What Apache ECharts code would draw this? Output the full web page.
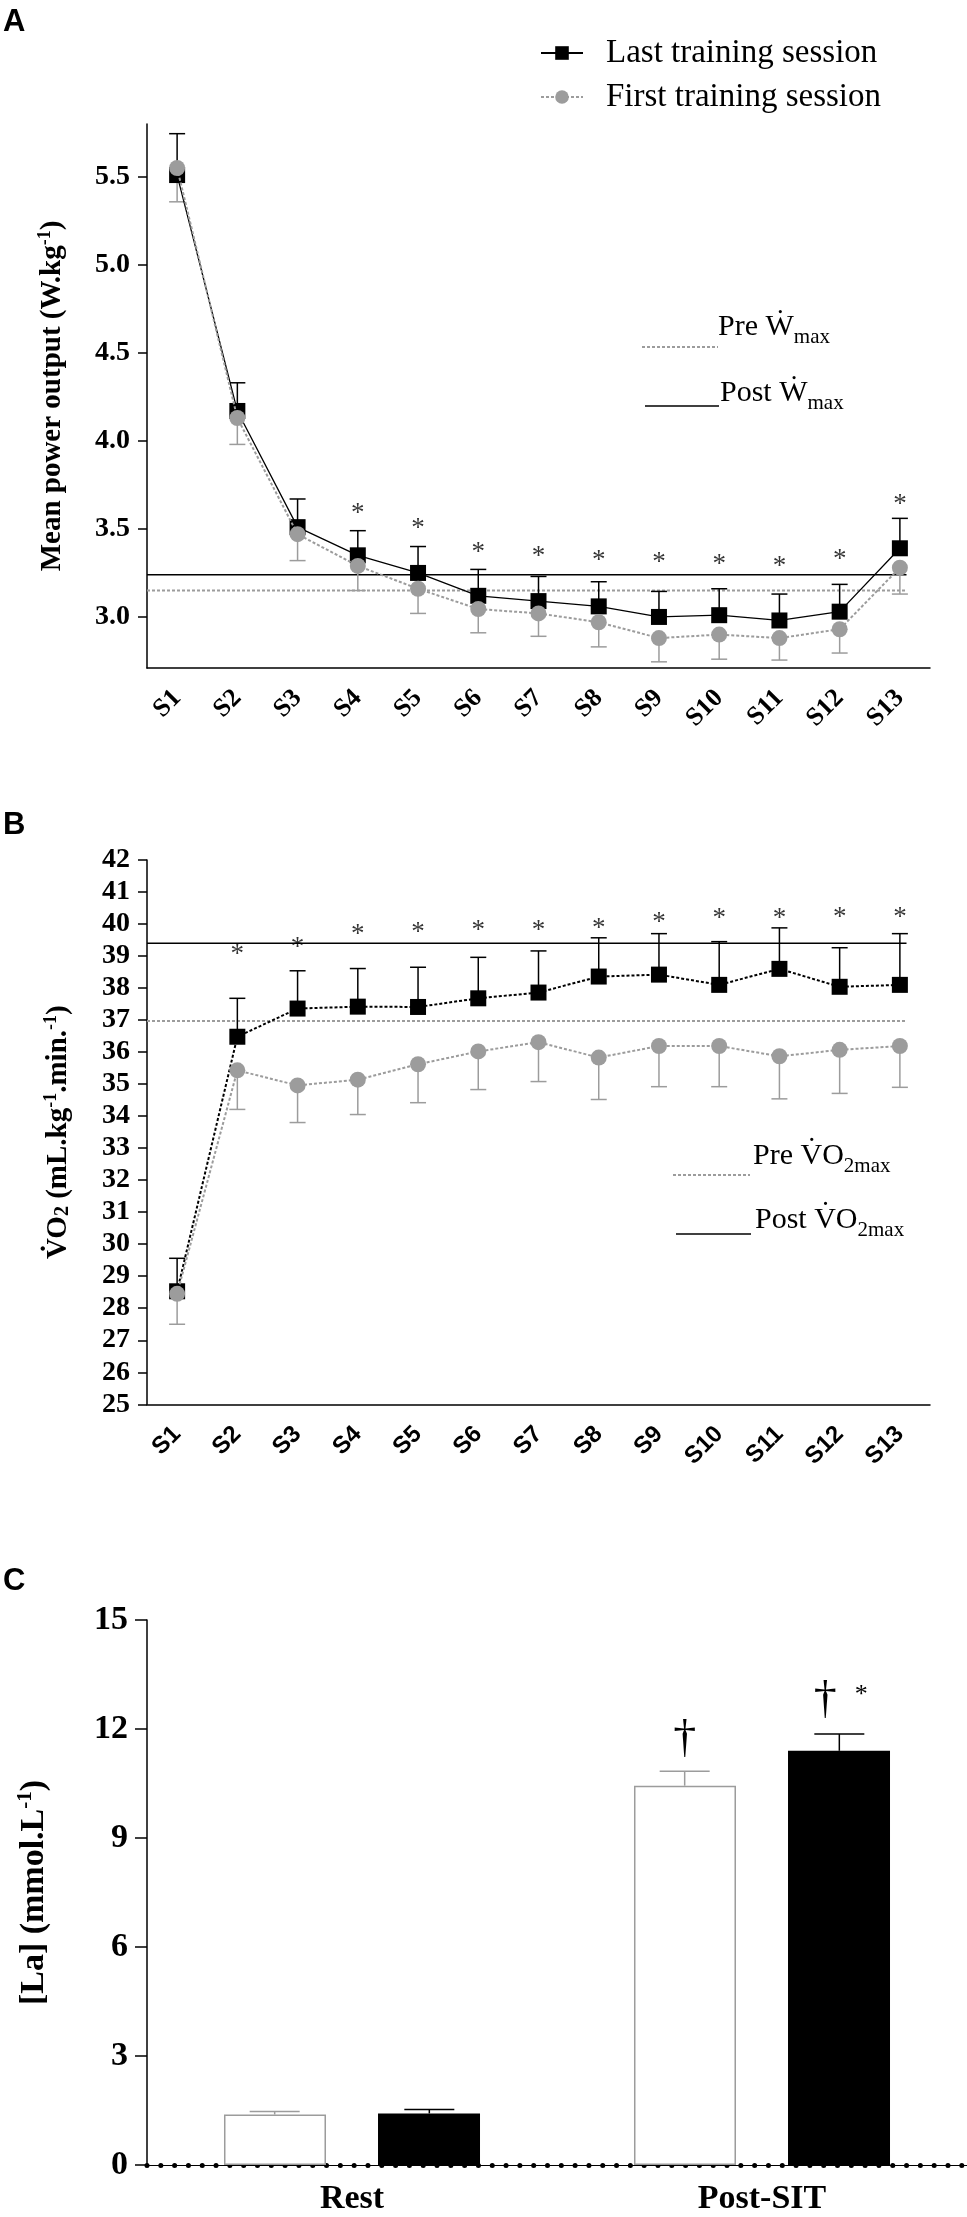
<!DOCTYPE html>
<html>
<head>
<meta charset="utf-8">
<script src="https://cdn.jsdelivr.net/npm/echarts@6/dist/echarts.min.js"></script>
<style>
html,body{margin:0;padding:0;background:#fff;}
#chart{width:967px;height:2217px;}
</style>
</head>
<body>
<div id="chart"></div>
<script>
// ---------------- DATA ----------------
const sessions = ['S1','S2','S3','S4','S5','S6','S7','S8','S9','S10','S11','S12','S13'];

// Panel A: mean power output (W.kg-1)
const powerLast      = [5.51, 4.17, 3.51, 3.35, 3.25, 3.12, 3.09, 3.06, 3.00, 3.01, 2.98, 3.03, 3.39];
const powerLastUpper = [5.745, 4.33, 3.67, 3.49, 3.40, 3.27, 3.23, 3.20, 3.145, 3.16, 3.13, 3.185, 3.56];
const powerFirst     = [5.55, 4.13, 3.47, 3.29, 3.16, 3.045, 3.02, 2.97, 2.88, 2.90, 2.88, 2.93, 3.28];
const powerFirstLower= [5.358, 3.98, 3.32, 3.15, 3.02, 2.91, 2.89, 2.83, 2.745, 2.76, 2.755, 2.795, 3.13];
const powerStars     = [null, null, null, 3.607, 3.525, 3.386, 3.365, 3.343, 3.33, 3.317, 3.305, 3.348, 3.66];
const powerTicks     = [3.0, 3.5, 4.0, 4.5, 5.0, 5.5];
const preWmax  = 3.15;
const postWmax = 3.24;

// Panel B: VO2 (mL.kg-1.min-1)
const vo2Last       = [28.53, 36.48, 37.36, 37.42, 37.41, 37.68, 37.86, 38.36, 38.42, 38.10, 38.60, 38.04, 38.10];
const vo2LastUpper  = [29.56, 37.68, 38.54, 38.61, 38.65, 38.96, 39.16, 39.57, 39.70, 39.45, 39.88, 39.26, 39.70];
const vo2First      = [28.45, 35.43, 34.96, 35.14, 35.62, 36.02, 36.31, 35.83, 36.19, 36.19, 35.87, 36.07, 36.19];
const vo2FirstLower = [27.50, 34.21, 33.80, 34.05, 34.42, 34.83, 35.08, 34.52, 34.92, 34.92, 34.54, 34.71, 34.90];
const vo2Stars      = [null, 39.17, 39.38, 39.77, 39.86, 39.91, 39.91, 39.98, 40.15, 40.29, 40.29, 40.31, 40.31];
const preVO2max  = 36.97;
const postVO2max = 39.40;

// Reference lines span (category index units)
const refLineStart = -0.5;
const refLineEnd   = 12.11;

// Panel C: blood lactate [La] (mmol.L-1)
const laCategories = ['Rest', 'Post-SIT'];
const laFirst      = [1.39, 10.44];
const laFirstUpper = [1.47, 10.84];
const laLast       = [1.42, 11.40];
const laLastUpper  = [1.525, 11.86];
// significance marks: category index, bar side (-1 first / +1 last), value, symbol
const laMarkCat   = [1, 1, 1];
const laMarkSide  = [-1, 1, 1];
const laMarkValue = [11.69, 12.76, 13.03];
const laMarkText  = ['\u2020', '\u2020', '*'];

// ---------------- STYLE ----------------
const SERIF = "'Liberation Serif','Times New Roman','DejaVu Serif',serif";
const SANS  = "'Liberation Sans',Arial,'DejaVu Sans',sans-serif";
const GRAY  = '#9c9c9c';

const chart = echarts.init(document.getElementById('chart'), null, {renderer:'canvas'});

function errorBarSeries(name, xIdx, yIdx, values, bounds, color, capW, width) {
  return {
    type: 'custom', name: name, xAxisIndex: xIdx, yAxisIndex: yIdx, silent: true, z: 2,
    data: values.map((v, i) => [i, v, bounds[i]]),
    encode: {x: 0, y: [1, 2]},
    renderItem: function (params, api) {
      const p1 = api.coord([api.value(0), api.value(1)]);
      const p2 = api.coord([api.value(0), api.value(2)]);
      const st = {stroke: color, lineWidth: width};
      return {type: 'group', children: [
        {type: 'line', shape: {x1: p1[0], y1: p1[1], x2: p2[0], y2: p2[1]}, style: st},
        {type: 'line', shape: {x1: p2[0] - capW / 2, y1: p2[1], x2: p2[0] + capW / 2, y2: p2[1]}, style: st}
      ]};
    }
  };
}

function starSeries(xIdx, yIdx, stars) {
  return {
    type: 'scatter', xAxisIndex: xIdx, yAxisIndex: yIdx, silent: true, z: 5,
    symbolSize: 1, itemStyle: {color: 'rgba(0,0,0,0)'},
    data: stars.map((v, i) => v == null ? null : [i, v]).filter(d => d),
    label: {show: true, formatter: '*', position: 'inside', fontFamily: SERIF, fontSize: 27, color: '#000', offset: [0, 4]}
  };
}

function refLine(xIdx, yIdx, value, color, type, width) {
  return {
    type: 'line', xAxisIndex: xIdx, yAxisIndex: yIdx, silent: true, z: 1,
    symbol: 'none', data: [[refLineStart, value], [refLineEnd, value]],
    lineStyle: {color: color, type: type, width: width}
  };
}

function catAxis(grid, data, font, size, margin) {
  return {
    type: 'category', gridIndex: grid, data: data, boundaryGap: true,
    axisLine: {onZero: false, lineStyle: {color: '#000', width: 1.5}},
    axisTick: {alignWithLabel: true, length: 11, lineStyle: {color: '#000', width: 1.5}},
    axisLabel: {interval: 0, rotate: 45, fontFamily: font, fontWeight: 'bold', fontSize: size, color: '#000', margin: margin},
    splitLine: {show: false}
  };
}

const nameRich = (fs, supFs) => ({
  m:   {fontFamily: SERIF, fontWeight: 'bold', fontSize: fs, lineHeight: fs + 2, verticalAlign: 'bottom', color: '#000'},
  sup: {fontFamily: SERIF, fontWeight: 'bold', fontSize: supFs, lineHeight: 8, verticalAlign: 'top', color: '#000'},
  sub: {fontFamily: SERIF, fontWeight: 'bold', fontSize: supFs + 2, lineHeight: 10, verticalAlign: 'bottom', color: '#000'}
});

const annotRich = {
  m:   {fontFamily: SERIF, fontSize: 30, lineHeight: 30, verticalAlign: 'top', color: '#000'},
  sub: {fontFamily: SERIF, fontSize: 21, lineHeight: 36, verticalAlign: 'bottom', color: '#000'}
};

const option = {
  animation: false,
  backgroundColor: '#fff',
  grid: [
    {left: 147, top: 124, width: 783, height: 544},
    {left: 147, top: 860, width: 783, height: 544.3},
    {left: 147, top: 1620, width: 822, height: 545}
  ],
  legend: {
    data: ['Last training session', 'First training session'],
    orient: 'vertical', left: 535, top: 31, itemWidth: 42, itemHeight: 17, itemGap: 10,
    selectedMode: false,
    textStyle: {fontFamily: SERIF, fontSize: 33, color: '#000', lineHeight: 34, padding: [0, 0, 0, 18]}
  },
  xAxis: [
    catAxis(0, sessions, SERIF, 26, 26),
    catAxis(1, sessions, SANS, 24, 26),
    {
      type: 'category', gridIndex: 2, data: laCategories, boundaryGap: true,
      axisLine: {onZero: false, lineStyle: {color: '#000', width: 5, type: [0.01, 13.8], cap: 'round'}},
      axisTick: {alignWithLabel: true, length: 11, lineStyle: {color: '#000', width: 1.2}},
      axisLabel: {interval: 0, fontFamily: SERIF, fontWeight: 'bold', fontSize: 34, color: '#000', margin: 17},
      splitLine: {show: false}
    },
    {type: 'value', gridIndex: 0, min: -0.5, max: 12.5, show: false},
    {type: 'value', gridIndex: 1, min: -0.5, max: 12.5, show: false}
  ],
  yAxis: [
    {
      type: 'value', gridIndex: 0, min: 2.71, max: 5.8,
      name: '{m|Mean power output (W.kg}{sup|-1}{m|)}', nameLocation: 'middle', nameGap: 80, nameRotate: 90,
      nameTextStyle: {fontFamily: SERIF, fontWeight: 'bold', fontSize: 29, color: '#000', rich: nameRich(29, 18)},
      axisLine: {show: true, onZero: false, lineStyle: {color: '#000', width: 1.5}},
      axisTick: {show: true, length: 9, customValues: powerTicks, lineStyle: {color: '#000', width: 1.5}},
      axisLabel: {customValues: powerTicks, formatter: v => Number(v).toFixed(1), fontFamily: SERIF, fontWeight: 'bold', fontSize: 28, color: '#000', margin: 17},
      splitLine: {show: false}
    },
    {
      type: 'value', gridIndex: 1, min: 25, max: 42, interval: 1,
      name: '{m|V\u0307O}{sub|2}{m| (mL.kg}{sup|-1}{m|.min.}{sup|-1}{m|)}', nameLocation: 'middle', nameGap: 74, nameRotate: 90,
      nameTextStyle: {fontFamily: SERIF, fontWeight: 'bold', fontSize: 29, color: '#000', rich: nameRich(29, 18)},
      axisLine: {show: true, onZero: false, lineStyle: {color: '#000', width: 1.5}},
      axisTick: {show: true, length: 9, lineStyle: {color: '#000', width: 1.5}},
      axisLabel: {fontFamily: SERIF, fontWeight: 'bold', fontSize: 28, color: '#000', margin: 17},
      splitLine: {show: false}
    },
    {
      type: 'value', gridIndex: 2, min: 0, max: 15, interval: 3,
      name: '{m|[La] (mmol.L}{sup|-1}{m|)}', nameLocation: 'middle', nameGap: 96, nameRotate: 90,
      nameTextStyle: {fontFamily: SERIF, fontWeight: 'bold', fontSize: 34, color: '#000', rich: nameRich(34, 21)},
      axisLine: {show: true, onZero: false, lineStyle: {color: '#000', width: 1.5}},
      axisTick: {show: true, length: 12, lineStyle: {color: '#000', width: 1.5}},
      axisLabel: {fontFamily: SERIF, fontWeight: 'bold', fontSize: 34, color: '#000', margin: 19},
      splitLine: {show: false}
    }
  ],
  series: [
    // ---- Panel A ----
    refLine(3, 0, preWmax, GRAY, [3, 2], 2),
    refLine(3, 0, postWmax, '#000', 'solid', 1.5),
    errorBarSeries('errLastA', 0, 0, powerLast, powerLastUpper, '#000', 16, 1.5),
    errorBarSeries('errFirstA', 0, 0, powerFirst, powerFirstLower, GRAY, 16, 1.5),
    {
      name: 'Last training session', type: 'line', xAxisIndex: 0, yAxisIndex: 0, z: 3,
      data: powerLast, symbol: 'rect', symbolSize: 16,
      itemStyle: {color: '#000'}, lineStyle: {color: '#000', width: 1.3, type: 'solid'}
    },
    {
      name: 'First training session', type: 'line', xAxisIndex: 0, yAxisIndex: 0, z: 4,
      data: powerFirst, symbol: 'circle', symbolSize: 16,
      itemStyle: {color: GRAY}, lineStyle: {color: GRAY, width: 2, type: [3, 2]}
    },
    starSeries(0, 0, powerStars),
    // ---- Panel B ----
    refLine(4, 1, preVO2max, GRAY, [3, 2], 2),
    refLine(4, 1, postVO2max, '#000', 'solid', 1.5),
    errorBarSeries('errLastB', 1, 1, vo2Last, vo2LastUpper, '#000', 16, 1.5),
    errorBarSeries('errFirstB', 1, 1, vo2First, vo2FirstLower, GRAY, 16, 1.5),
    {
      name: 'Last training session', type: 'line', xAxisIndex: 1, yAxisIndex: 1, z: 3,
      data: vo2Last, symbol: 'rect', symbolSize: 16,
      itemStyle: {color: '#000'}, lineStyle: {color: '#000', width: 2, type: [3, 2]}
    },
    {
      name: 'First training session', type: 'line', xAxisIndex: 1, yAxisIndex: 1, z: 4,
      data: vo2First, symbol: 'circle', symbolSize: 16,
      itemStyle: {color: GRAY}, lineStyle: {color: GRAY, width: 2, type: [3, 2]}
    },
    starSeries(1, 1, vo2Stars),
    // ---- Panel C ----
    {
      name: 'laFirst', type: 'bar', xAxisIndex: 2, yAxisIndex: 2, z: 2,
      data: laFirst, barWidth: 102, barGap: '51%',
      itemStyle: {color: '#fff', borderColor: GRAY, borderWidth: 1.5},
      markLine: {symbol: 'none', silent: true, label: {show: false}, lineStyle: {color: '#000', width: 1.2, type: 'solid'}, data: [{yAxis: 0}]}
    },
    {
      name: 'laLast', type: 'bar', xAxisIndex: 2, yAxisIndex: 2, z: 2,
      data: laLast, barWidth: 102, barGap: '51%',
      itemStyle: {color: '#000'}
    },
    {
      type: 'custom', xAxisIndex: 2, yAxisIndex: 2, silent: true, z: 3,
      data: laCategories.map((c, i) => [i, laFirst[i], laFirstUpper[i], -1]).concat(
            laCategories.map((c, i) => [i, laLast[i], laLastUpper[i], 1])),
      encode: {x: 0, y: [1, 2]},
      renderItem: function (params, api) {
        const side = api.value(3);
        const band = api.size([1, 0])[0];
        const dx = side * band * 0.1886;
        const p1 = api.coord([api.value(0), api.value(1)]);
        const p2 = api.coord([api.value(0), api.value(2)]);
        const col = side < 0 ? GRAY : '#000';
        const st = {stroke: col, lineWidth: 1.5};
        const capW = 50;
        return {type: 'group', children: [
          {type: 'line', shape: {x1: p1[0] + dx, y1: p1[1], x2: p2[0] + dx, y2: p2[1]}, style: st},
          {type: 'line', shape: {x1: p2[0] + dx - capW / 2, y1: p2[1], x2: p2[0] + dx + capW / 2, y2: p2[1]}, style: st}
        ]};
      }
    },
    {
      type: 'custom', xAxisIndex: 2, yAxisIndex: 2, silent: true, z: 4,
      data: laMarkCat.map((c, i) => [c, laMarkValue[i], laMarkSide[i], i]),
      encode: {x: 0, y: 1},
      renderItem: function (params, api) {
        const idx = api.value(3);
        const txt = laMarkText[idx];
        const side = api.value(2);
        const band = api.size([1, 0])[0];
        let dx = side * band * 0.1886;
        if (txt === '*') dx += 22; else if (side > 0) dx -= 14;
        const p = api.coord([api.value(0), api.value(1)]);
        const isStar = txt === '*';
        return {type: 'text', x: p[0] + dx, y: p[1] + (isStar ? 4 : 0), style: {
          text: txt, fill: '#000', align: 'center', verticalAlign: 'middle',
          font: (isStar ? '26px ' : '46px ') + SERIF
        }};
      }
    }
  ],
  graphic: [
    {type: 'text', x: 3, y: 22, style: {text: 'A', font: 'bold 31px ' + SANS, fill: '#000', verticalAlign: 'middle'}},
    {type: 'text', x: 3, y: 825, style: {text: 'B', font: 'bold 31px ' + SANS, fill: '#000', verticalAlign: 'middle'}},
    {type: 'text', x: 3, y: 1581, style: {text: 'C', font: 'bold 31px ' + SANS, fill: '#000', verticalAlign: 'middle'}},
    // Panel A reference keys
    {type: 'line', shape: {x1: 642, y1: 347, x2: 718, y2: 347}, style: {stroke: GRAY, lineWidth: 2, lineDash: [3, 2]}},
    {type: 'text', x: 718, y: 312, style: {text: '{m|Pre \u1E86}{sub|max}', rich: annotRich, verticalAlign: 'top'}},
    {type: 'line', shape: {x1: 645, y1: 406, x2: 719, y2: 406}, style: {stroke: '#000', lineWidth: 1.5}},
    {type: 'text', x: 720, y: 378, style: {text: '{m|Post \u1E86}{sub|max}', rich: annotRich, verticalAlign: 'top'}},
    // Panel B reference keys
    {type: 'line', shape: {x1: 673, y1: 1175, x2: 750, y2: 1175}, style: {stroke: GRAY, lineWidth: 2, lineDash: [3, 2]}},
    {type: 'text', x: 753, y: 1141, style: {text: '{m|Pre V\u0307O}{sub|2max}', rich: annotRich, verticalAlign: 'top'}},
    {type: 'line', shape: {x1: 676, y1: 1234, x2: 751, y2: 1234}, style: {stroke: '#000', lineWidth: 1.5}},
    {type: 'text', x: 755, y: 1205, style: {text: '{m|Post V\u0307O}{sub|2max}', rich: annotRich, verticalAlign: 'top'}}
  ]
};

chart.setOption(option);
</script>
</body>
</html>
